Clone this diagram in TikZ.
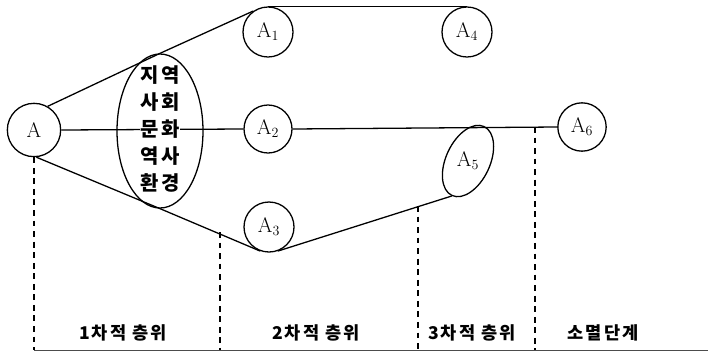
\documentclass[tikz,border=0pt]{standalone}
\usepackage{fontspec}
\newfontfamily\kr[LetterSpace=12]{Noto Sans CJK KR}
\usetikzlibrary{shapes.geometric}

\begin{document}
\begin{tikzpicture}[x=0.03cm, y=0.03cm, line width=1.1pt,
  stage/.style={circle, draw, minimum size=1.5cm, inner sep=0pt, font=\fontsize{18}{20}\selectfont},
  envrow/.style={fill=white, inner sep=0.5pt, font=\kr\bfseries\fontsize{17}{19}\selectfont},
  divider/.style={dash pattern=on 5pt off 4pt, line width=1pt},
  levellabel/.style={font=\kr\bfseries\fontsize{15}{17}\selectfont}]
  \useasboundingbox (0,0) rectangle (708,353);

  % Stages
  \node[stage, minimum size=1.6cm] (A) at (34,223) {A};
  \node[stage] (A1) at (268,321) {$\mathrm{A}_1$};
  \node[stage, minimum size=1.44cm] (A2) at (268,224) {$\mathrm{A}_2$};
  \node[stage] (A3) at (269,126) {$\mathrm{A}_3$};
  \node[stage] (A4) at (467,321) {$\mathrm{A}_4$};
  \node[stage, minimum size=1.45cm] (A6) at (582,226) {$\mathrm{A}_6$};
  \node[ellipse, draw, rotate=65, minimum width=2.28cm, minimum height=1.32cm] (A5) at (468,192) {};
  \node[font=\fontsize{18}{20}\selectfont] (A5label) at (A5) {$\mathrm{A}_5$};

  % Environment ellipse
  \node[ellipse, draw, minimum width=2.58cm, minimum height=4.62cm] (env) at (160,222) {};

  % Connectors
  \draw (A.60) -- (env.north) -- (A1.125);
  \draw (A1.north) -- (A4.north);
  \draw (A.east) -- (A2.west);
  \draw (A2.east) -- (A6.west);
  \draw (A.-85) -- (env.south) -- (A3.250);
  \draw (A3.290) -- (A5.west);

  % Environment text
  \foreach \w [count=\i] in {지역,사회,문화,역사,환경}
    \node[envrow] (row\i) at (160,305-27*\i) {\w};

  % Level dividers
  \coordinate (bottom) at (0,3);
  \coordinate (end) at (708,3);
  \coordinate (d2) at (220,121);
  \coordinate (d3) at (418,147);
  \coordinate (d4) at (535,226);
  \draw[divider] (A.south) -- (A.south |- bottom);
  \draw[divider] (d2) -- (d2 |- bottom);
  \draw[divider] (d3) -- (d3 |- bottom);
  \draw[divider] (d4) -- (d4 |- bottom);
  \draw[line width=0.7pt, gray!60!black] (A.south |- bottom) -- (end);

  % Level labels
  \node[levellabel] (L1) at (123,20) {1차적 층위};
  \node[levellabel] (L2) at (316,20) {2차적 층위};
  \node[levellabel] (L3) at (472,20) {3차적 층위};
  \node[levellabel] (L4) at (603,20) {소멸단계};
\end{tikzpicture}
\end{document}
